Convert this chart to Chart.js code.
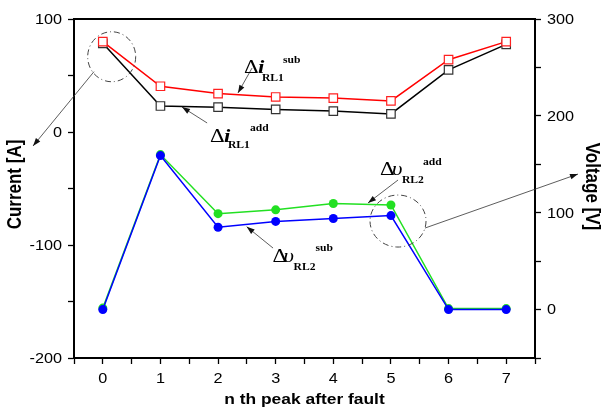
<!DOCTYPE html>
<html><head><meta charset="utf-8">
<script src="https://cdn.jsdelivr.net/npm/chart.js@4.4.0/dist/chart.umd.min.js"></script>
<style>html,body{margin:0;padding:0;background:#fff}canvas{display:block}</style>
</head><body>
<canvas id="c" width="602" height="410"></canvas>
<script>
// ---- data ----
const peaks = [0, 1, 2, 3, 4, 5, 6, 7];
const iSub = [80, 40.5, 34, 31, 30, 27.5, 64, 80];      // Δi_RL1^sub  (Current [A])
const iAdd = [78.5, 23, 22, 20, 18.5, 16, 55, 77.5];    // Δi_RL1^add  (Current [A])
const vAdd = [1.5, 160, 99, 103, 109.5, 108, 1, 1];     // Δυ_RL2^add  (Voltage [V])
const vSub = [0, 159, 85, 91, 94, 97, 0, 0];            // Δυ_RL2^sub  (Voltage [V])
const currentTicks = [-200, -100, 0, 100];
const voltageTicks = [0, 100, 200, 300];
const xTicks = [0, 1, 2, 3, 4, 5, 6, 7];

const SX = 1.16; // horizontal stretch of text in the reference
const SANS = "'Liberation Sans', Arial, sans-serif";
const SERIF = "'Liberation Serif', 'Times New Roman', serif";

function pts(ys) { return peaks.map((x, i) => ({ x: x, y: ys[i] })); }

function txt(ctx, s, x, y, font, align, base, rot, sx) {
  ctx.save();
  ctx.translate(x, y);
  ctx.scale(sx || SX, 1);
  if (rot) ctx.rotate(rot);
  ctx.font = font;
  ctx.textAlign = align;
  ctx.textBaseline = base;
  ctx.fillStyle = '#000';
  ctx.fillText(s, 0, 0);
  ctx.restore();
}

// annotation anchors in data coordinates (x, left axis value)
const labels = [
  { at: [2.45, 52.2], main: 'i', mainFont: "bold italic 19px " + SERIF, sub: 'RL1', sup: 'sub', dm: 14, ds: [18, 7.5], dp: [39, -10] },
  { at: [1.86, -8.6], main: 'i', mainFont: "bold italic 19px " + SERIF, sub: 'RL1', sup: 'add', dm: 14, ds: [18, 6.5], dp: [40, -11] },
  { at: [4.81, -38.1], main: 'υ', mainFont: "italic 19px " + SERIF, sub: 'RL2', sup: 'add', dm: 12, ds: [22, 8], dp: [43, -10] },
  { at: [2.945, -115], main: 'υ', mainFont: "italic 19px " + SERIF, sub: 'RL2', sup: 'sub', dm: 11, ds: [21, 8], dp: [43, -11] }
];
const arrows = [
  [[2.59, 56.6], [2.345, 34.5]],
  [[1.81, 8], [1.374, 22.1]],
  [[5.123, -42.5], [4.602, -62.8]],
  [[2.954, -102.7], [2.497, -83.8]],
  [[-0.153, 53.4], [-1.211, -12.4]],
  [[5.591, -85], [8.246, -37.2]]
];
const rings = [
  { at: [0.154, 66.6], rx: 24, ry: 25 },
  { at: [5.123, -78.8], rx: 28, ry: 26 }
];

const deco = {
  id: 'deco',
  afterDraw(chart) {
    const ctx = chart.ctx, a = chart.chartArea;
    const sx = chart.scales.x, sy = chart.scales.y, sy2 = chart.scales.y2;
    const P = (p) => [sx.getPixelForValue(p[0]), sy.getPixelForValue(p[1])];
    // top frame line
    ctx.save();
    ctx.strokeStyle = '#000'; ctx.lineWidth = 2;
    ctx.beginPath(); ctx.moveTo(a.left - 1, a.top); ctx.lineTo(a.right + 1, a.top); ctx.stroke();
    ctx.restore();
    // tick labels
    const tf = "14px " + SANS;
    currentTicks.forEach(v => txt(ctx, String(v), a.left - 12, sy.getPixelForValue(v) + 1, tf, 'right', 'middle'));
    voltageTicks.forEach(v => txt(ctx, String(v), a.right + 12, sy2.getPixelForValue(v) + 1, tf, 'left', 'middle'));
    xTicks.forEach(v => txt(ctx, String(v), sx.getPixelForValue(v), a.bottom + 21, tf, 'center', 'middle'));
    // axis titles
    txt(ctx, 'Current [A]', 16, (a.top + a.bottom) / 2 - 4, "bold 17px " + SANS, 'center', 'middle', -Math.PI / 2);
    txt(ctx, 'Voltage [V]', 591, (a.top + a.bottom) / 2 - 2, "bold 17px " + SANS, 'center', 'middle', Math.PI / 2);
    txt(ctx, 'n th peak after fault', (a.left + a.right) / 2, 404, "bold 15px " + SANS, 'center', 'alphabetic');
    // rings
    ctx.save();
    ctx.strokeStyle = '#444'; ctx.lineWidth = 1; ctx.setLineDash([6, 3, 1, 3]);
    rings.forEach(r => {
      const [cx, cy] = P(r.at);
      ctx.beginPath(); ctx.ellipse(cx, cy, r.rx, r.ry, 0, 0, Math.PI * 2); ctx.stroke();
    });
    ctx.restore();
    // arrows
    ctx.save();
    ctx.strokeStyle = '#333'; ctx.fillStyle = '#111'; ctx.lineWidth = 0.8;
    arrows.forEach(([f, t]) => {
      const [x1, y1] = P(f), [x2, y2] = P(t);
      const ang = Math.atan2(y2 - y1, x2 - x1);
      ctx.beginPath(); ctx.moveTo(x1, y1); ctx.lineTo(x2, y2); ctx.stroke();
      const L = 8, W = 2.8;
      ctx.beginPath();
      ctx.moveTo(x2, y2);
      ctx.lineTo(x2 - L * Math.cos(ang) + W * Math.sin(ang), y2 - L * Math.sin(ang) - W * Math.cos(ang));
      ctx.lineTo(x2 - L * Math.cos(ang) - W * Math.sin(ang), y2 - L * Math.sin(ang) + W * Math.cos(ang));
      ctx.closePath(); ctx.fill();
    });
    ctx.restore();
    // labels
    labels.forEach(l => {
      const [x, y] = P(l.at);
      txt(ctx, 'Δ', x, y, "19px " + SERIF, 'left', 'alphabetic', 0, 1.2);
      txt(ctx, l.main, x + l.dm, y, l.mainFont, 'left', 'alphabetic', 0, 1.2);
      txt(ctx, l.sub, x + l.ds[0], y + l.ds[1], "bold 10px " + SERIF, 'left', 'alphabetic');
      txt(ctx, l.sup, x + l.dp[0], y + l.dp[1], "bold 10px " + SERIF, 'left', 'alphabetic');
    });
  }
};

const gridOpts = { drawOnChartArea: false, drawTicks: true, tickLength: 6, tickColor: '#000', tickWidth: 1.3 };
const noLabel = { callback: () => '', autoSkip: false, padding: 0 };

new Chart(document.getElementById('c'), {
  type: 'line',
  data: {
    datasets: [
      { label: 'vSub', data: pts(vSub), yAxisID: 'y2', borderColor: '#0000ff', backgroundColor: '#0000ff', borderWidth: 1.5,
        pointRadius: 4.5, pointBorderWidth: 0, pointBackgroundColor: '#0000ff', order: 1 },
      { label: 'iSub', data: pts(iSub), yAxisID: 'y', borderColor: '#ff0000', borderWidth: 1.5,
        pointStyle: 'rect', pointRadius: 6, pointBorderWidth: 1.2, pointBorderColor: '#ff2020', pointBackgroundColor: '#ffffff', order: 2 },
      { label: 'iAdd', data: pts(iAdd), yAxisID: 'y', borderColor: '#000000', borderWidth: 1.5,
        pointStyle: 'rect', pointRadius: 6, pointBorderWidth: 1.2, pointBorderColor: '#333333', pointBackgroundColor: '#ffffff', order: 3 },
      { label: 'vAdd', data: pts(vAdd), yAxisID: 'y2', borderColor: '#22e022', backgroundColor: '#22e022', borderWidth: 1.5,
        pointRadius: 4.5, pointBorderWidth: 0, pointBackgroundColor: '#22e022', order: 4 }
    ]
  },
  options: {
    responsive: false,
    animation: false,
    events: [],
    layout: { padding: { top: 19, left: 0, right: 0, bottom: 0 } },
    plugins: { legend: { display: false }, tooltip: { enabled: false } },
    scales: {
      x: { type: 'linear', min: -0.5, max: 7.5, ticks: Object.assign({ stepSize: 0.5 }, noLabel),
           grid: gridOpts, border: { color: '#000', width: 2 }, afterFit: s => { s.height = 52; } },
      y: { position: 'left', min: -200, max: 100, ticks: Object.assign({ stepSize: 50 }, noLabel),
           grid: gridOpts, border: { color: '#000', width: 2 }, afterFit: s => { s.width = 74; } },
      y2: { position: 'right', min: -50, max: 300, ticks: Object.assign({ stepSize: 50 }, noLabel),
            grid: gridOpts, border: { color: '#000', width: 2 }, afterFit: s => { s.width = 67; } }
    }
  },
  plugins: [deco]
});
</script>
</body></html>
